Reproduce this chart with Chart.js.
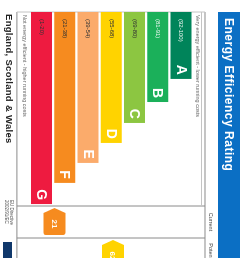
<!DOCTYPE html>
<html>
<head>
<meta charset="utf-8">
<script src="https://cdn.jsdelivr.net/npm/chart.js@4.4.0/dist/chart.umd.min.js"></script>
<style>
html, body { margin: 0; padding: 0; background: #fff; overflow: hidden; width: 249px; height: 258px; }
/* the certificate is drawn upright, then turned a quarter clockwise like the scan */
#wrap { position: absolute; left: 0; top: 0; width: 258px; height: 249px; transform-origin: 0 0; transform: translateX(249px) rotate(90deg); }
</style>
</head>
<body>
<div id="wrap"><canvas id="epc" width="258" height="249"></canvas></div>
<script>
const bands = ['A', 'B', 'C', 'D', 'E', 'F', 'G'];
const bandRanges = ['(92-100)', '(81-91)', '(69-80)', '(55-68)', '(39-54)', '(21-38)', '(1-20)'];
const bandLows = [92, 81, 69, 55, 39, 21, 1];
const bandHighs = [100, 91, 80, 68, 54, 38, 20];
const barLengths = [34.5, 46.4, 57.2, 67.5, 77.8, 88.1, 99];
const bandColors = ['#00845a', '#1bb05a', '#8cc641', '#ffd300', '#fbab6b', '#f68b1f', '#ee1b40'];
const lightRangeText = ['A', 'B'];

const currentRating = 21;
const potentialRating = 62;

const titleText = 'Energy Efficiency Rating';
const topNote = 'Very energy efficient - lower running costs';
const bottomNote = 'Not energy efficient - higher running costs';
const columnLabels = ['Current', 'Potential'];
const countryText = 'England, Scotland & Wales';
const directiveLines = ['EU Directive', '2002/91/EC'];

const FONT = '"Liberation Sans", Arial, sans-serif';

function bandOf(score) {
    return bandLows.findIndex((low, i) => score >= low && score <= bandHighs[i]);
}

function drawArrow(ctx, left, right, centre, half, colour) {
    const tip = 5;
    const r = 2.5;
    ctx.beginPath();
    ctx.moveTo(left, centre);
    ctx.lineTo(left + tip, centre - half);
    ctx.lineTo(right - r, centre - half);
    ctx.quadraticCurveTo(right, centre - half, right, centre - half + r);
    ctx.lineTo(right, centre + half - r);
    ctx.quadraticCurveTo(right, centre + half, right - r, centre + half);
    ctx.lineTo(left + tip, centre + half);
    ctx.closePath();
    ctx.fillStyle = colour;
    ctx.fill();
}

const epcPlugin = {
    id: 'epc',
    beforeDraw(chart) {
        const ctx = chart.ctx;
        const area = chart.chartArea;
        const W = chart.width;
        const frameTop = area.top - 12.4;
        const frameBottom = area.bottom + 13;
        const colW = 32;
        ctx.save();
        ctx.fillStyle = '#fff';
        ctx.fillRect(0, 0, W, chart.height);

        // blue title bar
        ctx.fillStyle = '#0b6fc4';
        ctx.fillRect(area.left, 9, W - area.left, 22);
        ctx.fillStyle = '#fff';
        ctx.font = 'bold 12px ' + FONT;
        ctx.letterSpacing = '0.5px';
        ctx.textBaseline = 'middle';
        ctx.textAlign = 'left';
        ctx.fillText(titleText, area.left + 6, 20.5);
        ctx.letterSpacing = '0px';

        // column headings
        ctx.fillStyle = '#444';
        ctx.font = '5.5px ' + FONT;
        ctx.textAlign = 'center';
        columnLabels.forEach((label, i) => {
            ctx.fillText(label, area.right + colW * i + colW / 2, 38);
        });

        // frame
        ctx.strokeStyle = '#8a8a8a';
        ctx.lineWidth = 1;
        ctx.beginPath();
        ctx.moveTo(area.left, frameTop); ctx.lineTo(W, frameTop);
        ctx.moveTo(area.left, frameBottom); ctx.lineTo(W, frameBottom);
        ctx.moveTo(area.right, frameTop); ctx.lineTo(area.right, frameBottom);
        ctx.moveTo(area.right + colW, frameTop); ctx.lineTo(area.right + colW, frameBottom);
        ctx.stroke();
        ctx.strokeStyle = '#c4c4c4';
        ctx.beginPath();
        ctx.moveTo(area.left, frameTop + 3.5); ctx.lineTo(area.right, frameTop + 3.5);
        ctx.moveTo(area.left, frameTop); ctx.lineTo(area.left, frameBottom);
        ctx.stroke();

        // notes
        ctx.fillStyle = '#666';
        ctx.font = '5.5px ' + FONT;
        ctx.textAlign = 'left';
        ctx.fillText(topNote, area.left + 3, area.top - 4.5);
        ctx.fillText(bottomNote, area.left + 3, area.bottom + 5.5);

        // country and directive
        ctx.fillStyle = '#222';
        ctx.font = 'bold 9.5px ' + FONT;
        ctx.letterSpacing = '0.3px';
        ctx.fillText(countryText, area.left + 2, 240.5);
        ctx.letterSpacing = '0px';
        ctx.fillStyle = '#555';
        ctx.font = '4.5px ' + FONT;
        ctx.fillText(directiveLines[0], 200, 238);
        ctx.fillText(directiveLines[1], 200, 242.5);
        ctx.fillStyle = '#10386b';
        ctx.fillRect(242, 237, 20, 9);
        ctx.restore();
    },
    afterDatasetsDraw(chart) {
        const ctx = chart.ctx;
        const area = chart.chartArea;
        const meta = chart.getDatasetMeta(0);
        const yScale = chart.scales.y;
        const step = yScale.getPixelForValue(1) - yScale.getPixelForValue(0);
        ctx.save();
        ctx.textBaseline = 'middle';
        meta.data.forEach((bar, i) => {
            ctx.fillStyle = '#fff';
            ctx.font = 'bold 14px ' + FONT;
            ctx.textAlign = 'right';
            ctx.fillText(bands[i], bar.x - 4, bar.y + 0.5);
            ctx.fillStyle = lightRangeText.includes(bands[i]) ? '#e8f5ee' : '#333';
            ctx.font = '6px ' + FONT;
            ctx.textAlign = 'left';
            ctx.fillText(bandRanges[i], area.left + 7, bar.y);
        });

        [currentRating, potentialRating].forEach((score, col) => {
            const b = bandOf(score);
            const frac = (bandHighs[b] - score) / (bandHighs[b] - bandLows[b] + 1);
            const centre = yScale.getPixelForValue(b) - step / 2 + frac * step;
            const left = area.right + 32 * col + 2;
            drawArrow(ctx, left, left + 27, centre, 11, bandColors[b]);
            ctx.fillStyle = '#fff';
            ctx.font = 'bold 8px ' + FONT;
            ctx.textAlign = 'center';
            ctx.fillText(String(score), left + 16, centre + 0.5);
        });
        ctx.restore();
    }
};

new Chart(document.getElementById('epc').getContext('2d'), {
    type: 'bar',
    data: {
        labels: bands,
        datasets: [{
            data: barLengths,
            backgroundColor: bandColors,
            barPercentage: 0.9,
            categoryPercentage: 1
        }]
    },
    options: {
        indexAxis: 'y',
        responsive: false,
        animation: false,
        layout: { padding: { left: 12, right: 52, top: 56.4, bottom: 29.9 } },
        scales: {
            x: { display: false, min: 0, max: 100 },
            y: { display: false }
        },
        plugins: {
            legend: { display: false },
            tooltip: { enabled: false }
        }
    },
    plugins: [epcPlugin]
});
</script>
</body>
</html>
